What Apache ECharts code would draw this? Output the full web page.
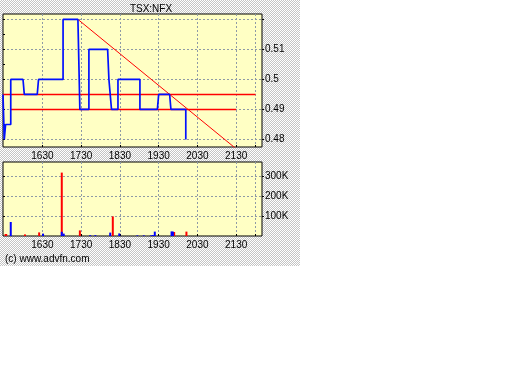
<!DOCTYPE html>
<html><head><meta charset="utf-8">
<script src="https://cdn.jsdelivr.net/npm/echarts@6/dist/echarts.min.js"></script>
<style>
html,body{margin:0;padding:0;background:#fff;}
#bg{position:absolute;left:0;top:0;width:300px;height:266px;background:repeating-conic-gradient(#c4c4c4 0 25%,#ffffff 0 50%) 0 0/2px 2px;}
#c{position:absolute;left:0;top:0;width:512px;height:384px;}
</style></head><body><div id="bg"></div><div id="c"></div>
<script>
// ---- data ----
const chartTitle = 'TSX:NFX';
const copyright = '(c) www.advfn.com';
const priceTimes = ['15:29','15:31','15:33','15:33','15:41','15:41','16:00','16:02','16:22','16:24','17:02','17:02','17:25','17:28','17:42','17:42','18:11','18:13','18:14','18:17','18:27','18:27','19:01','19:01','19:28','19:30','19:47','19:49','20:12','20:12','20:13'];
const prices = [0.495,0.48,0.48,0.485,0.485,0.5,0.5,0.495,0.495,0.5,0.5,0.52,0.52,0.49,0.49,0.51,0.51,0.5,0.5,0.49,0.49,0.5,0.5,0.49,0.49,0.495,0.495,0.49,0.49,0.48,0.48];
const lineATimes = ['15:29','22:00'];
const lineAValues = [0.495,0.495];
const lineBTimes = ['15:41','21:30'];
const lineBValues = [0.49,0.49];
const trendTimes = ['17:25','21:30'];
const trendValues = [0.52,0.4769];
const redTimes = ['15:33','15:34','16:03','16:25','17:00','17:28','18:19','19:54','20:13'];
const redVols = [10000,10000,8000,18000,317000,28000,98000,20000,22000];
const greenTimes = ['16:31','17:00','18:15'];
const greenVols = [4000,5000,3000];
const blueTimes = ['15:41','16:31','17:00','17:03','17:44','17:52','18:15','18:29','18:57','19:07','19:18','19:21','19:24','19:50','19:52'];
const blueVols = [70000,12000,21000,12000,4000,4000,17000,13000,3000,3000,3000,5000,22000,23000,22000];
const timeTicks = ['16:30','17:30','18:30','19:30','20:30','21:30','22:00'];
const timeLabels = ['16:30','17:30','18:30','19:30','20:30','21:30'];
const priceTicks = [0.48,0.49,0.5,0.51,0.52];
const priceMinorTicks = [0.48,0.485,0.49,0.495,0.5,0.505,0.51,0.515,0.52];
const priceLabels = [0.48,0.49,0.5,0.51];
const volTicks = [100000,200000,300000];

// ---- helpers ----
const toMin = s => { const p = s.split(':').map(Number); return p[0]*60+p[1]; };
const fmtTime = v => { const h = Math.floor(v/60), m = Math.round(v%60); return String(h)+String(m).padStart(2,'0'); };
const zip = (ts, vs) => ts.map((t,i)=>[toMin(t), vs[i]]);
const FONT = '"Liberation Sans Narrow","Liberation Sans",Arial,sans-serif';
const xMin = toMin('15:29'), xMax = toMin('22:10');
const gridLine = {show:true, lineStyle:{color:'#8e9aa6', type:[2,2], width:1}};

function xAxisDef(gi){
  return {type:'value', gridIndex:gi, min:xMin, max:xMax, position:'bottom',
    axisLine:{show:false},
    axisTick:{show:true, inside:true, length:2, customValues:timeTicks.map(toMin), lineStyle:{color:'#000'}},
    axisLabel:{show:true, customValues:timeLabels.map(toMin), formatter:fmtTime, color:'#000', fontFamily:FONT, fontSize:10, margin:4},
    splitLine:gridLine};
}

const chart = echarts.init(document.getElementById('c'), null, {renderer:'canvas'});
chart.setOption({
  animation:false,
  backgroundColor:'transparent',
  grid:[
    {left:3, top:14, width:259, height:133, show:true, backgroundColor:'#ffffc4', borderColor:'#000', borderWidth:1},
    {left:3, top:162, width:259, height:74, show:true, backgroundColor:'#ffffc4', borderColor:'#000', borderWidth:1}
  ],
  xAxis:[xAxisDef(0), xAxisDef(1)],
  yAxis:[
    {type:'value', gridIndex:0, position:'right', min:0.4775, max:0.5218, scale:true,
      axisLine:{show:false},
      axisTick:{show:true, length:2, customValues:priceTicks, lineStyle:{color:'#000'}},
      axisLabel:{show:true, customValues:priceLabels, formatter:v=>String(Math.round(v*1000)/1000), color:'#000', fontFamily:FONT, fontSize:10, margin:3},
      splitLine:gridLine},
    {type:'value', gridIndex:1, position:'right', min:0, max:370000,
      axisLine:{show:false},
      axisTick:{show:true, length:2, customValues:volTicks, lineStyle:{color:'#000'}},
      axisLabel:{show:true, customValues:volTicks, formatter:v=>(v/1000)+'K', color:'#000', fontFamily:FONT, fontSize:10, margin:3},
      splitLine:gridLine},
    {type:'value', gridIndex:0, position:'left', min:0.4775, max:0.5218, scale:true,
      axisLine:{show:false},
      axisTick:{show:true, inside:true, length:2, customValues:priceMinorTicks, lineStyle:{color:'#000'}},
      axisLabel:{show:false}, splitLine:{show:false}},
    {type:'value', gridIndex:1, position:'left', min:0, max:370000,
      axisLine:{show:false},
      axisTick:{show:true, inside:true, length:2, customValues:volTicks, lineStyle:{color:'#000'}},
      axisLabel:{show:false}, splitLine:{show:false}}
  ],
  graphic:[
    {type:'text', x:151, y:9, style:{text:chartTitle, fill:'#000', font:'10px '+FONT, textAlign:'center', textVerticalAlign:'middle'}},
    {type:'text', x:5, y:259, style:{text:copyright, fill:'#000', font:'10px '+FONT, textAlign:'left', textVerticalAlign:'middle'}}
  ],
  series:[
    {type:'line', xAxisIndex:0, yAxisIndex:0, data:zip(lineATimes,lineAValues), symbol:'none', lineStyle:{color:'#ff0000', width:1.5}, z:2},
    {type:'line', xAxisIndex:0, yAxisIndex:0, data:zip(lineBTimes,lineBValues), symbol:'none', lineStyle:{color:'#ff0000', width:1.5}, z:2},
    {type:'line', xAxisIndex:0, yAxisIndex:0, data:zip(trendTimes,trendValues), symbol:'none', lineStyle:{color:'#ff0000', width:1}, z:2},
    {type:'line', xAxisIndex:0, yAxisIndex:0, data:zip(priceTimes,prices), symbol:'none', lineStyle:{color:'#0010ff', width:1.7}, z:3},
    {type:'bar', xAxisIndex:1, yAxisIndex:1, stack:'v', barWidth:2, data:zip(redTimes,redVols), itemStyle:{color:'#ff0000'}},
    {type:'bar', xAxisIndex:1, yAxisIndex:1, stack:'v', barWidth:2, data:zip(greenTimes,greenVols), itemStyle:{color:'#00a000'}},
    {type:'bar', xAxisIndex:1, yAxisIndex:1, stack:'v', barWidth:2, data:zip(blueTimes,blueVols), itemStyle:{color:'#0000ff'}}
  ]
});
</script></body></html>
